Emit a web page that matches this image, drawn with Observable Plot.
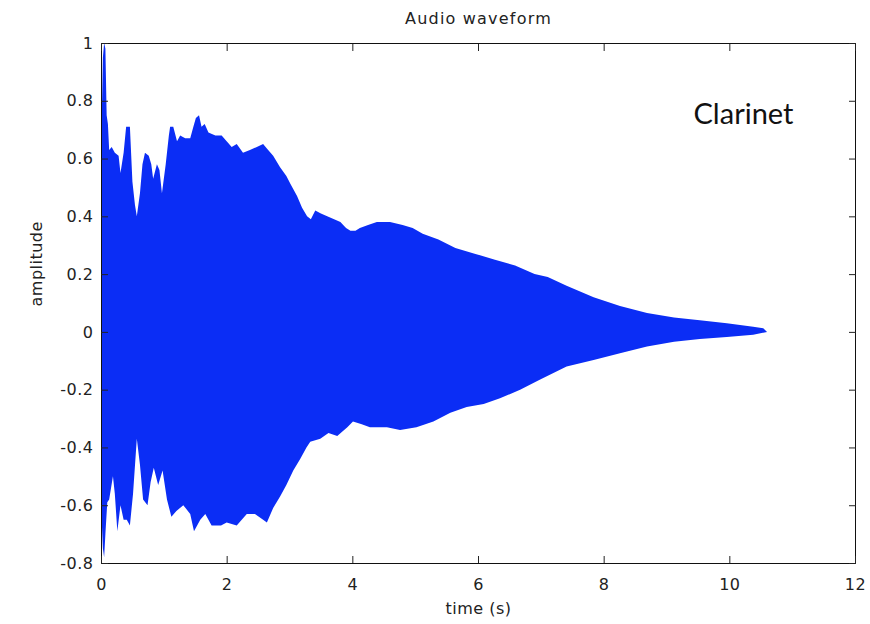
<!DOCTYPE html>
<html>
<head>
<meta charset="utf-8">
<script src="https://cdn.jsdelivr.net/npm/d3@7"></script>
<script src="https://cdn.jsdelivr.net/npm/@observablehq/plot@0.6"></script>
<style>
  body { margin: 0; background: #fff; }
  #chart svg text { letter-spacing: 0.5px; }
</style>
</head>
<body>
<div id="chart"></div>
<script>
// Upper envelope of the waveform (time in s, amplitude)
const upperTime = [0.00,0.03,0.05,0.07,0.09,0.11,0.13,0.17,0.22,0.28,0.31,0.36,0.40,0.46,0.50,0.54,0.57,0.62,0.66,0.70,0.76,0.80,0.83,0.89,0.93,0.97,1.03,1.08,1.10,1.15,1.21,1.26,1.34,1.42,1.47,1.51,1.56,1.60,1.65,1.71,1.82,1.92,2.00,2.08,2.16,2.26,2.37,2.48,2.58,2.66,2.74,2.85,2.95,3.02,3.12,3.20,3.28,3.34,3.41,3.50,3.60,3.71,3.81,3.90,3.97,4.05,4.12,4.25,4.39,4.60,4.80,4.96,5.12,5.37,5.64,5.96,6.27,6.59,6.90,7.11,7.41,7.84,8.26,8.69,9.12,9.53,9.96,10.38,10.54,10.60];
const upperAmp  = [0.60,0.95,1.00,0.98,0.75,0.72,0.63,0.64,0.62,0.61,0.55,0.62,0.71,0.71,0.52,0.44,0.40,0.48,0.58,0.62,0.61,0.58,0.53,0.58,0.56,0.48,0.58,0.68,0.71,0.71,0.66,0.68,0.67,0.67,0.71,0.74,0.75,0.71,0.72,0.69,0.68,0.68,0.66,0.64,0.65,0.62,0.63,0.64,0.65,0.63,0.61,0.57,0.54,0.51,0.47,0.43,0.40,0.39,0.42,0.41,0.40,0.39,0.38,0.36,0.35,0.35,0.36,0.37,0.38,0.38,0.37,0.36,0.34,0.32,0.29,0.27,0.25,0.23,0.20,0.19,0.16,0.12,0.09,0.065,0.05,0.04,0.03,0.018,0.013,0.0];
// Lower envelope of the waveform
const lowerTime = [0.00,0.03,0.05,0.07,0.10,0.13,0.19,0.22,0.26,0.31,0.36,0.41,0.46,0.51,0.57,0.62,0.67,0.74,0.79,0.84,0.91,0.98,1.05,1.12,1.20,1.31,1.42,1.48,1.58,1.66,1.76,1.91,2.00,2.16,2.32,2.45,2.58,2.64,2.74,2.85,2.95,3.06,3.17,3.27,3.33,3.49,3.62,3.76,3.92,4.01,4.15,4.28,4.55,4.76,5.02,5.29,5.56,5.82,6.09,6.35,6.67,6.99,7.41,7.84,8.26,8.69,9.12,9.53,9.96,10.38,10.60];
const lowerAmp  = [-0.59,-0.75,-0.78,-0.70,-0.59,-0.58,-0.50,-0.56,-0.69,-0.60,-0.65,-0.65,-0.67,-0.56,-0.37,-0.46,-0.58,-0.60,-0.52,-0.47,-0.53,-0.48,-0.58,-0.64,-0.62,-0.60,-0.63,-0.69,-0.65,-0.63,-0.67,-0.67,-0.66,-0.67,-0.63,-0.63,-0.65,-0.66,-0.61,-0.57,-0.53,-0.48,-0.44,-0.40,-0.38,-0.37,-0.35,-0.36,-0.33,-0.31,-0.32,-0.33,-0.33,-0.34,-0.33,-0.31,-0.28,-0.26,-0.25,-0.23,-0.20,-0.165,-0.12,-0.097,-0.074,-0.051,-0.034,-0.025,-0.018,-0.01,0.0];

const xTicks = [0, 2, 4, 6, 8, 10, 12];
const yTicks = [-0.8, -0.6, -0.4, -0.2, 0, 0.2, 0.4, 0.6, 0.8, 1];
const titleText = "Audio waveform";
const xLabel = "time (s)";
const yLabel = "amplitude";
const noteText = "Clarinet";

const upper = upperTime.map((t, i) => ({t, a: upperAmp[i]}));
const lower = lowerTime.map((t, i) => ({t, a: lowerAmp[i]}));
const blue = "#0b2df5";

const chart = Plot.plot({
  width: 870,
  height: 624,
  marginLeft: 101,
  marginRight: 15,
  marginTop: 43,
  marginBottom: 61,
  x: {domain: [0, 12]},
  y: {domain: [-0.8, 1]},
  style: {fontFamily: "DejaVu Sans", fontSize: "16px", color: "#222", background: "#fff"},
  marks: [
    Plot.areaY(upper, {x: "t", y1: 0, y2: "a", fill: blue}),
    Plot.areaY(lower, {x: "t", y1: "a", y2: 0, fill: blue}),
    Plot.frame({stroke: "#111"}),
    Plot.axisX({anchor: "bottom", ticks: xTicks, tickSize: -7, tickPadding: 22, tickFormat: d => String(d), label: null, fontSize: 16}),
    Plot.axisX({anchor: "top", ticks: xTicks, tickSize: -7, tickFormat: () => "", label: null}),
    Plot.axisY({anchor: "left", ticks: yTicks, tickSize: -7, tickPadding: 15, tickFormat: d => String(d), label: null, fontSize: 16}),
    Plot.axisY({anchor: "right", ticks: yTicks, tickSize: -7, tickFormat: () => "", label: null}),
    Plot.text([titleText], {frameAnchor: "top", lineAnchor: "middle", dy: -25, fontSize: 16, fill: "#222"}),
    Plot.text([xLabel], {frameAnchor: "bottom", lineAnchor: "middle", dy: 45, fontSize: 16, fill: "#222"}),
    Plot.text([yLabel], {frameAnchor: "left", lineAnchor: "middle", dx: -65, dy: 3, rotate: -90, fontSize: 16, fill: "#222"}),
    Plot.text([noteText], {frameAnchor: "top-right", dx: -162, dy: 80, textAnchor: "start", lineAnchor: "bottom", fontFamily: "Lato", fontSize: 29, fill: "#111"})
  ]
});
document.getElementById("chart").appendChild(chart);
d3.select(chart).selectAll("text")
  .filter(function() { return this.textContent === titleText; })
  .style("letter-spacing", "1.2px");
d3.select(chart).selectAll("text")
  .filter(function() { return this.textContent === noteText; })
  .style("letter-spacing", "0px");
</script>
</body>
</html>
